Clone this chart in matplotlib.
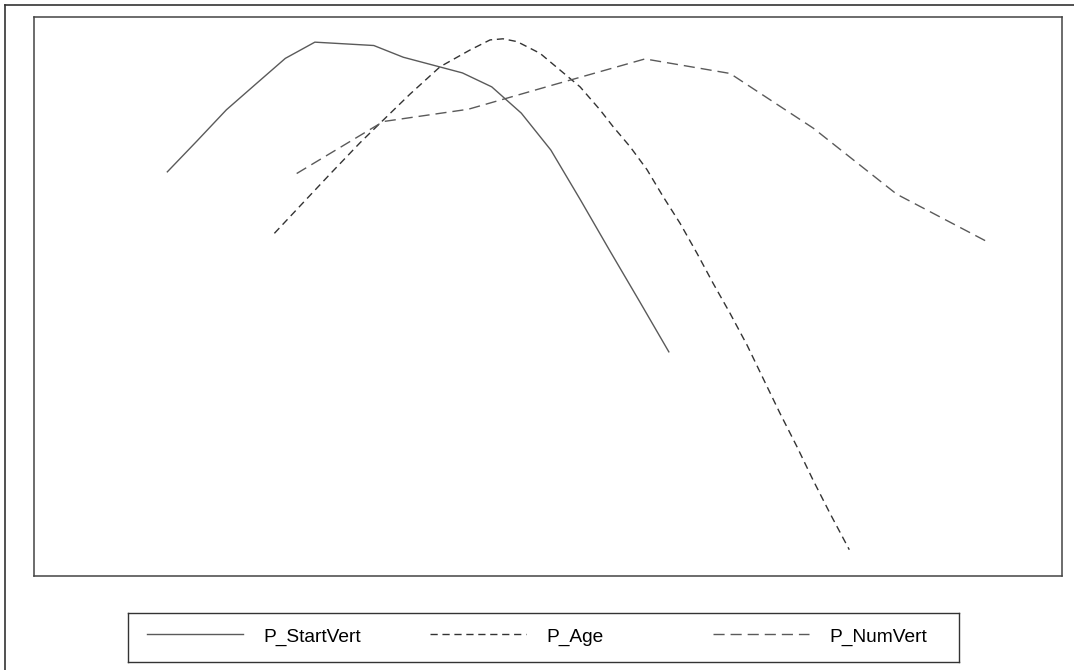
"""Partial dependence of predicted kyphosis probability on standardized predictors."""

import matplotlib
matplotlib.use("Agg")
import matplotlib.pyplot as plt
from matplotlib.lines import Line2D

plt.rcParams["font.family"] = ["Liberation Sans", "DejaVu Sans"]

# standardized predictor value (x) vs. predicted probability (y)
start_x = [-2.146, -1.938, -1.730, -1.523, -1.315, -1.107, -0.899, -0.692, -0.484,
           -0.276, -0.068, 0.139, 0.347, 0.555, 0.763, 0.970, 1.178, 1.386]
start_y = [0.723, 0.778, 0.834, 0.880, 0.926, 0.955, 0.952, 0.949, 0.928,
           0.914, 0.900, 0.875, 0.828, 0.762, 0.673, 0.582, 0.492, 0.401]

age_x = [-1.392, -1.211, -1.000, -0.789, -0.648, -0.437, -0.225, -0.014, 0.127,
         0.218, 0.317, 0.479, 0.620, 0.761, 0.901, 0.993, 1.113, 1.232, 1.345,
         1.465, 1.585, 1.697, 1.817, 1.937, 2.049, 2.169, 2.289, 2.401, 2.521, 2.657]
age_y = [0.613, 0.662, 0.719, 0.775, 0.810, 0.862, 0.911, 0.941, 0.959,
         0.961, 0.956, 0.935, 0.905, 0.875, 0.834, 0.804, 0.768, 0.727, 0.679,
         0.631, 0.577, 0.524, 0.470, 0.413, 0.354, 0.291, 0.231, 0.172, 0.112, 0.047]

numvert_x = [-1.235, -0.625, -0.026, 0.592, 1.218, 1.817, 2.404, 2.991, 3.636]
numvert_y = [0.720, 0.813, 0.835, 0.880, 0.925, 0.899, 0.801, 0.683, 0.597]

labels = ["P_StartVert", "P_Age", "P_NumVert"]
styles = [
    dict(color="#5a5a5a", linestyle="-"),
    dict(color="#333333", linestyle=(0, (5.2, 3.4))),
    dict(color="#5a5a5a", linestyle=(0, (8.0, 4.3))),
]

W, H = 1074, 670
fig = plt.figure(figsize=(W / 100, H / 100), dpi=100)

# page frame (top and left edges)
fig.add_artist(Line2D([5 / W, 1], [1 - 5 / H, 1 - 5 / H], transform=fig.transFigure,
                      color="#333333", linewidth=1.2))
fig.add_artist(Line2D([5 / W, 5 / W], [0, 1 - 5 / H], transform=fig.transFigure,
                      color="#333333", linewidth=1.2))

ax = fig.add_axes([34 / W, (H - 576) / H, (1062 - 34) / W, (576 - 17) / H])
for xs, ys, st in zip([start_x, age_x, numvert_x], [start_y, age_y, numvert_y], styles):
    ax.plot(xs, ys, linewidth=1.0, **st)
ax.set_xlim(-3.085, 4.155)
ax.set_ylim(0.0, 1.0)
ax.set_xticks([])
ax.set_yticks([])
for sp in ax.spines.values():
    sp.set_color("#444444")
    sp.set_linewidth(1.1)

# legend panel
lax = fig.add_axes([128 / W, (H - 662) / H, (959 - 128) / W, 49 / H])
lax.set_xlim(0, 1)
lax.set_ylim(0, 1)
lax.set_xticks([])
lax.set_yticks([])
for sp in lax.spines.values():
    sp.set_color("#333333")
    sp.set_linewidth(1.0)
step = 283 / 831
for i, (lab, st) in enumerate(zip(labels, styles)):
    x0 = 19 / 831 + i * step
    lax.add_line(Line2D([x0, x0 + 96 / 831], [0.565, 0.565], linewidth=1.0, **st))
    lax.text(x0 + 116 / 831, 0.5, lab, fontsize=13.8, va="center", ha="left", color="black")

fig.savefig("out.png", dpi=100)
